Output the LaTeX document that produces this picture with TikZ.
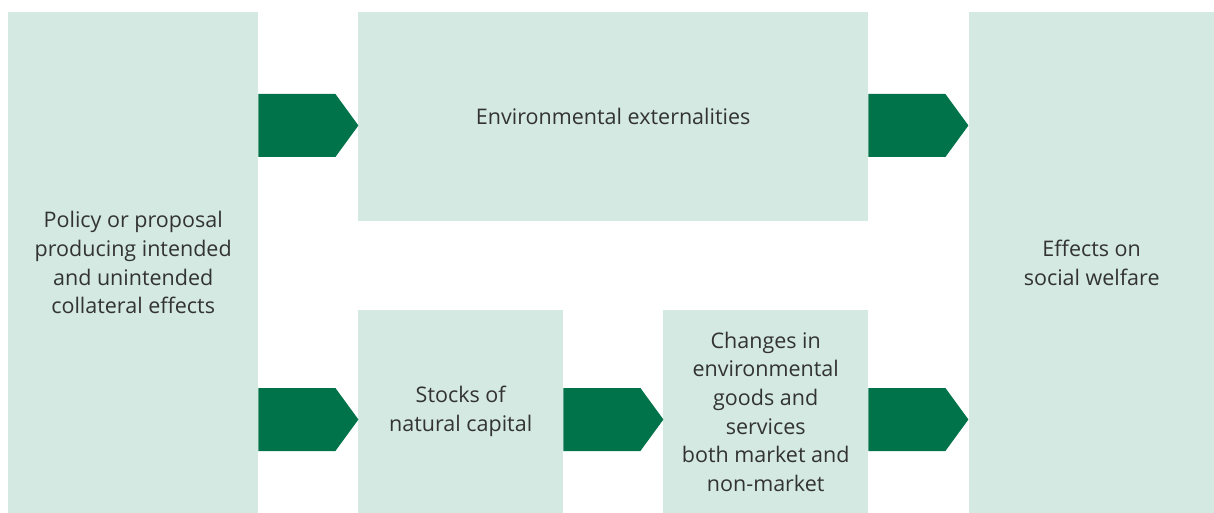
\documentclass[tikz,border=0pt]{standalone}
\usepackage{fontspec}
\setmainfont{Open Sans}
\usepackage{xcolor}
\usetikzlibrary{calc}
\definecolor{boxgreen}{HTML}{D3E9E1}
\definecolor{arrowgreen}{HTML}{00734A}
\definecolor{textgrey}{HTML}{333333}
\tikzset{
  box/.style={fill=boxgreen, anchor=north west, inner sep=0pt, align=center,
    text=textgrey, font=\fontsize{21.5}{28.7}\selectfont},
  blkarrow/.pic={\fill[arrowgreen] (0,0) -- (77,0) -- (100,31.5) -- (77,63) -- (0,63) -- cycle;}
}

\begin{document}
\begin{tikzpicture}[x=1pt, y=-1pt]
\useasboundingbox (0,0) rectangle (1214,513);
% boxes
\node[box, minimum width=250, minimum height=501] (pol) at (8,12)
  {Policy or proposal\\producing intended\\and unintended\\collateral effects};
\node[box, minimum width=510, minimum height=209] (ext) at (358,12)
  {Environmental externalities};
\node[box, minimum width=205, minimum height=203] (stock) at (358,310)
  {Stocks of\\natural capital};
\node[box, minimum width=205, minimum height=203] (goods) at (663,310)
  {Changes in\\environmental\\goods and\\services\\both market and\\non-market};
\node[box, minimum width=245, minimum height=501] (welfare) at (969,12)
  {Effects on\\social welfare};
% arrows
\coordinate (a1) at ($(pol.north east)+(0,82)$);  % to externalities
\coordinate (a2) at ($(pol.north east)+(0,376)$); % to stocks
\coordinate (a3) at ($(stock.north east)+(0,78)$); % to goods
\coordinate (a4) at ($(ext.north east)+(0,82)$);  % to welfare
\coordinate (a5) at ($(goods.north east)+(0,78)$); % to welfare
\pic at (a1) {blkarrow};
\pic at (a2) {blkarrow};
\pic at (a3) {blkarrow};
\pic at (a4) {blkarrow};
\pic at (a5) {blkarrow};
\end{tikzpicture}
\end{document}
